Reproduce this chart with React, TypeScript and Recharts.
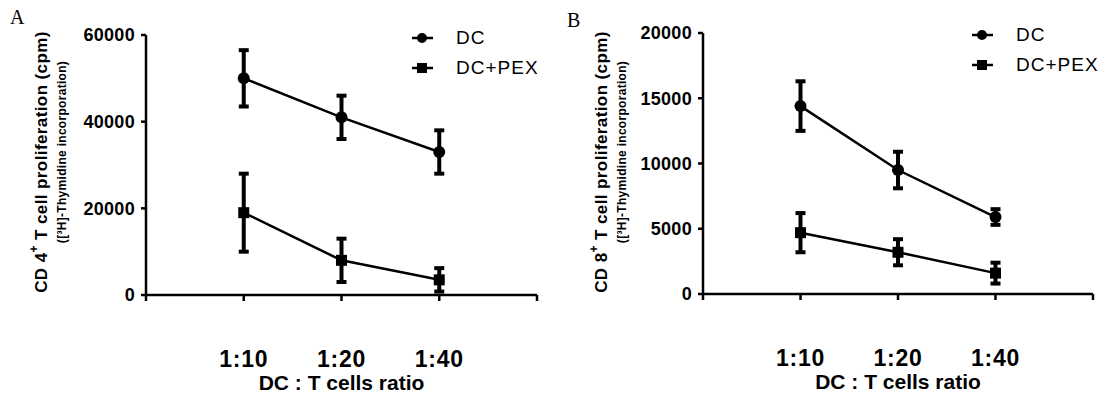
import React from 'react';
import { LineChart, Line, XAxis, YAxis, ErrorBar, Legend } from 'recharts';

const CATEGORIES = ['1:10', '1:20', '1:40'];
const SERIES_NAMES = ['DC', 'DC+PEX'];

const CD4_DC = [50000, 41000, 33000];
const CD4_DC_SD = [6500, 5000, 5000];
const CD4_PEX = [19000, 8000, 3500];
const CD4_PEX_SD = [9000, 5000, 2700];
const CD4_TICKS = [0, 20000, 40000, 60000];

const CD8_DC = [14400, 9500, 5900];
const CD8_DC_SD = [1900, 1400, 600];
const CD8_PEX = [4700, 3200, 1600];
const CD8_PEX_SD = [1500, 1000, 800];
const CD8_TICKS = [0, 5000, 10000, 15000, 20000];

const FONT = '"Liberation Sans", Arial, Helvetica, sans-serif';

function buildRows(dc: number[], dcSd: number[], pex: number[], pexSd: number[]) {
  return CATEGORIES.map((c, i) => ({
    x: i + 1,
    label: c,
    dc: dc[i],
    dcErr: dcSd[i],
    pex: pex[i],
    pexErr: pexSd[i],
  }));
}

const SquareDot = (props: any) => {
  const { cx, cy, index } = props;
  if (cx == null || cy == null) return null;
  return <rect key={`sq-${index}`} x={cx - 5.5} y={cy - 5.5} width={11} height={11} fill="#000" />;
};

const renderLegend = (props: any) => {
  const { payload } = props;
  return (
    <div style={{ fontFamily: FONT }}>
      {(payload || []).map((entry: any, i: number) => (
        <div key={i} style={{ display: 'flex', alignItems: 'center', height: 30 }}>
          <svg width={24} height={14} style={{ marginRight: 20 }}>
            <line x1={0} y1={7} x2={21} y2={7} stroke="#000" strokeWidth={2.5} />
            {entry.type === 'square' ? (
              <rect x={5} y={2} width={10} height={10} fill="#000" />
            ) : (
              <circle cx={10} cy={7} r={5} fill="#000" />
            )}
          </svg>
          <span style={{ fontSize: 19, color: '#000', letterSpacing: 1 }}>{entry.value}</span>
        </div>
      ))}
    </div>
  );
};

interface PanelProps {
  letter: string;
  cd: string;
  rows: any[];
  yMax: number;
  yTicks: number[];
  left: number;
  width: number;
  top: number;
  xAxisHeight: number;
  yAxisWidth: number;
  right: number;
  legendTop: number;
  letterX: number;
  letterY: number;
}

function Panel(p: PanelProps) {
  const yLabel = () => (
    <g>
      <text
        transform="translate(41, 162) rotate(-90)"
        textAnchor="middle"
        dominantBaseline="central"
        fontSize={17}
        fontWeight="bold"
        letterSpacing={0.4}
        fill="#000"
      >
        {`CD ${p.cd}`}
        <tspan baselineShift="super" fontSize={12}>+</tspan>
        {' T cell proliferation (cpm)'}
      </text>
      <text
        transform="translate(62, 152) rotate(-90)"
        textAnchor="middle"
        dominantBaseline="central"
        fontSize={12}
        fontWeight="bold"
        letterSpacing={0.3}
        fill="#000"
      >
        ([³H]-Thymidine incorporation)
      </text>
    </g>
  );
  const xLabel = (props: any) => {
    const vb = props.viewBox || {};
    return (
      <text
        x={vb.x + vb.width / 2}
        y={vb.y + 95}
        textAnchor="middle"
        fontSize={21}
        fontWeight="bold"
        fill="#000"
      >
        DC : T cells ratio
      </text>
    );
  };

  return (
    <div style={{ position: 'absolute', left: p.left, top: 0, width: p.width, height: 396 }}>
      <LineChart
        width={p.width}
        height={396}
        data={p.rows}
        margin={{ top: p.top, right: p.right, bottom: 0, left: 0 }}
        style={{ fontFamily: FONT }}
      >
        <XAxis
          dataKey="x"
          type="number"
          domain={[0, 4]}
          ticks={[0, 1, 2, 3, 4]}
          tickFormatter={(v: number) => CATEGORIES[v - 1] ?? ''}
          height={p.xAxisHeight}
          axisLine={{ stroke: '#000', strokeWidth: 2.5 }}
          tickLine={{ stroke: '#000', strokeWidth: 2.5 }}
          tickSize={6}
          tickMargin={50}
          tick={{ fill: '#000', fontSize: 23, fontWeight: 'bold', letterSpacing: 0.8 }}
          interval={0}
          label={xLabel}
        />
        <YAxis
          type="number"
          domain={[0, p.yMax]}
          ticks={p.yTicks}
          width={p.yAxisWidth}
          axisLine={{ stroke: '#000', strokeWidth: 2.5 }}
          tickLine={{ stroke: '#000', strokeWidth: 2.5 }}
          tickSize={5}
          tickMargin={6}
          tick={{ fill: '#000', fontSize: 18, fontWeight: 'bold', letterSpacing: 0.3 }}
          interval={0}
          label={yLabel}
        />
        <Legend
          layout="vertical"
          verticalAlign="middle"
          align="center"
          content={renderLegend}
          wrapperStyle={{ left: 412, top: p.legendTop, width: 140 }}
        />
        <Line
          type="linear"
          dataKey="dc"
          name={SERIES_NAMES[0]}
          legendType="circle"
          stroke="#000"
          strokeWidth={2.5}
          dot={{ r: 6, fill: '#000', stroke: '#000', strokeWidth: 0 }}
          activeDot={false}
          isAnimationActive={false}
        >
          <ErrorBar dataKey="dcErr" direction="y" width={5} strokeWidth={4} stroke="#000" />
        </Line>
        <Line
          type="linear"
          dataKey="pex"
          name={SERIES_NAMES[1]}
          legendType="square"
          stroke="#000"
          strokeWidth={2.5}
          dot={SquareDot}
          activeDot={false}
          isAnimationActive={false}
        >
          <ErrorBar dataKey="pexErr" direction="y" width={5} strokeWidth={4} stroke="#000" />
        </Line>
      </LineChart>
      <div
        style={{
          position: 'absolute',
          left: p.letterX,
          top: p.letterY,
          fontFamily: '"Liberation Serif", "Times New Roman", serif',
          fontSize: 20,
          lineHeight: '20px',
          color: '#000',
        }}
      >
        {p.letter}
      </div>
    </div>
  );
}

export default function App() {
  const cd4Rows = buildRows(CD4_DC, CD4_DC_SD, CD4_PEX, CD4_PEX_SD);
  const cd8Rows = buildRows(CD8_DC, CD8_DC_SD, CD8_PEX, CD8_PEX_SD);
  return (
    <div style={{ position: 'absolute', left: 0, top: 0, width: 1105, height: 396, background: '#fff', overflow: 'hidden' }}>
      <Panel
        letter="A"
        cd="4"
        rows={cd4Rows}
        yMax={60000}
        yTicks={CD4_TICKS}
        left={0}
        width={560}
        top={35}
        xAxisHeight={101}
        right={23}
        yAxisWidth={146}
        legendTop={23}
        letterX={10}
        letterY={7}
      />
      <Panel
        letter="B"
        cd="8"
        rows={cd8Rows}
        yMax={20000}
        yTicks={CD8_TICKS}
        left={560}
        width={545}
        top={33}
        xAxisHeight={102}
        right={12}
        yAxisWidth={143}
        legendTop={20}
        letterX={7}
        letterY={10}
      />
    </div>
  );
}
